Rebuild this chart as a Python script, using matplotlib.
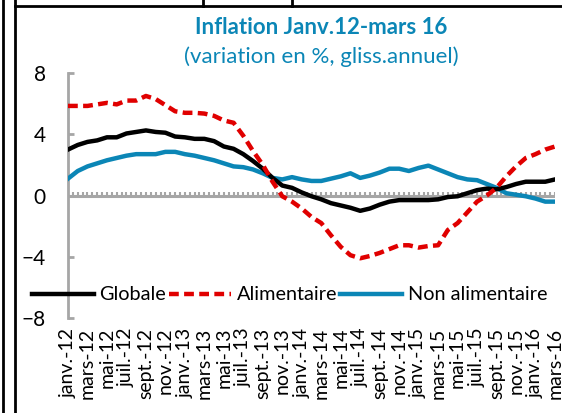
import matplotlib.pyplot as plt
from matplotlib.lines import Line2D
import numpy as np

plt.rcParams['font.family'] = ['Lato', 'DejaVu Sans']

# Données (glissement annuel, %), janv.-12 -> mars-16
mois = ["janv.", "févr.", "mars", "avr.", "mai", "juin",
        "juil.", "août", "sept.", "oct.", "nov.", "déc."]
annees = ["12", "13", "14", "15", "16"]

globale = [3.0, 3.3, 3.5, 3.6, 3.8, 3.8, 4.05, 4.15, 4.25, 4.15, 4.1, 3.85,
           3.8, 3.7, 3.7, 3.55, 3.2, 3.05, 2.7, 2.25, 1.75, 1.15, 0.65, 0.5,
           0.2, -0.05, -0.25, -0.5, -0.65, -0.8, -1.0, -0.85, -0.6, -0.4, -0.3, -0.3,
           -0.3, -0.3, -0.25, -0.1, -0.05, 0.15, 0.35, 0.45, 0.4, 0.55, 0.75, 0.9,
           0.9, 0.9, 1.05]
alimentaire = [5.85, 5.85, 5.85, 5.95, 6.05, 5.95, 6.2, 6.2, 6.5, 6.3, 5.9, 5.5,
               5.4, 5.4, 5.35, 5.2, 4.9, 4.75, 3.9, 2.9, 2.0, 0.9, -0.05, -0.4,
               -0.85, -1.4, -1.8, -2.6, -3.35, -3.9, -4.1, -3.95, -3.75, -3.5, -3.25, -3.25,
               -3.4, -3.3, -3.25, -2.25, -1.8, -1.1, -0.4, 0.0, 0.5, 1.25, 1.9, 2.45,
               2.7, 3.0, 3.2]
non_alimentaire = [1.1, 1.6, 1.9, 2.1, 2.3, 2.45, 2.6, 2.7, 2.7, 2.7, 2.85, 2.85,
                   2.7, 2.6, 2.45, 2.3, 2.1, 1.9, 1.85, 1.7, 1.45, 1.15, 1.05, 1.2,
                   1.05, 0.95, 0.95, 1.1, 1.25, 1.45, 1.15, 1.3, 1.5, 1.75, 1.75, 1.6,
                   1.8, 1.95, 1.7, 1.45, 1.2, 1.05, 1.0, 0.75, 0.5, 0.15, 0.05, -0.05,
                   -0.2, -0.4, -0.4]

labels = [m + "-" + a for a in annees for m in mois][:len(globale)]
x = np.arange(len(globale))

bleu = "#0B86B6"
rouge = "#E00000"
gris = "#A6A6A6"

fig = plt.figure(figsize=(5.62, 4.13), dpi=100)
ax = fig.add_axes([68 / 562, 1 - 318 / 413, (555 - 68) / 562, (318 - 73) / 413])

ax.plot(x, globale, color="black", lw=3.2, label="Globale", zorder=4)
ax.plot(x, alimentaire, color=rouge, lw=3.2, dashes=(2.2, 1.2), label="Alimentaire", zorder=4)
ax.plot(x, non_alimentaire, color=bleu, lw=3.2, label="Non alimentaire", zorder=3)

# ligne du zéro avec graduations (mois et demi-mois)
ax.axhline(0, color=gris, lw=2.2, zorder=2)
ax.vlines(np.arange(0, len(x) - 0.5, 0.5), 0, 0.25, color=gris, lw=1.5, zorder=2)

ax.set_xlim(0, len(x) - 1)
ax.set_ylim(-8, 8)
ax.set_yticks([-8, -4, 0, 4, 8])
ax.set_xticks(x[::2])
ax.set_xticklabels(labels[::2], rotation=90, fontsize=14)

for s in ["top", "right", "bottom"]:
    ax.spines[s].set_visible(False)
ax.spines["left"].set_color(gris)
ax.spines["left"].set_linewidth(2)
ax.tick_params(axis="y", direction="in", length=4, width=2, color=gris,
               labelsize=15, pad=16)
ax.tick_params(axis="x", length=0, pad=7)

fig.text(0.571, 1 - 27 / 413, "Inflation Janv.12-mars 16", ha="center", va="center",
         fontsize=16, fontweight="bold", color=bleu)
fig.text(0.571, 1 - 57 / 413, "(variation en %, gliss.annuel)", ha="center", va="center",
         fontsize=16, color=bleu)

fig.legend(loc="center left", bbox_to_anchor=(32 / 562, 1 - 295 / 413), ncol=3,
           frameon=False, fontsize=14.3, handlelength=3.1, handletextpad=0.3,
           columnspacing=0.15, borderpad=0, borderaxespad=0)

# cadre de la capture
for xs, ys in [((3, 3), (0, 413)), ((14.5, 14.5), (0, 413)), ((14.5, 562), (5.5, 5.5)),
               ((203, 203), (0, 5.5)), ((292, 292), (0, 5.5))]:
    fig.add_artist(Line2D([v / 562 for v in xs], [1 - v / 413 for v in ys],
                          color="black", lw=2, transform=fig.transFigure))

fig.savefig("out.png", dpi=100)
